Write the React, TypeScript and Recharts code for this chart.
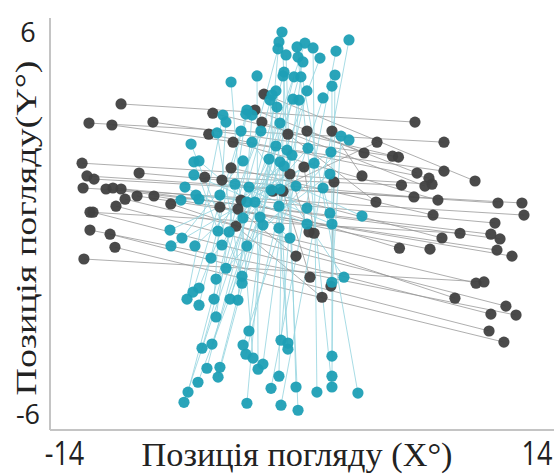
import React from 'react';
import { ScatterChart, Scatter, XAxis, YAxis, Label } from 'recharts';

const xTicks = [-14, 14];
const yTicks = [-6, 6];
const xTitle = 'Позиція погляду (X°)';
const yTitle = 'Позиція погляду(Y°)';

// Dark (horizontal) pairs: start point and end point of each segment
const darkX1 = [-10.65, -12.55, -11.19, -8.76, -5.21, -5.45, -12.96, -9.58, -12.67, -5.69, -12.25, -12.9, -11.13, -11.54, -10.65, -9.7, -8.7, -10.41, -7.7, -10.95, -12.49, -12.31, -12.49, -11.3, -11.01, -12.85, -2.18, -2.71, -2.3, -4.01, -4.13, -4.67, -3.54, -4.79, -0.76, 0.37, 1.85, -1.65, -0.64, 0.19, 1.97, -1.05, -3.72, -3.84];
const darkY1 = [3.71, 3.11, 3.05, 3.14, 3.42, 2.76, 1.85, 1.54, 1.45, 1.41, 1.35, 1.07, 1.07, 1.04, 1.04, 0.82, 0.82, 0.72, 0.57, 0.5, 0.31, 0.31, -0.25, -0.38, -0.79, -1.16, 4.02, 3.52, 3.14, 2.51, 1.7, 1.32, 0.69, 0.47, 2.76, 2.86, 2.86, 0.97, 1.51, 1.73, 1.26, 0.97, 0.41, -0.13];
const darkX2 = [6.77, 8.49, 8.49, 5.44, 5.79, 7.6, 7.78, 6.71, 11.69, 5.97, 13.11, 13.23, 11.51, 11.27, 11.81, 11.63, 12.52, 10.39, 9.14, 12.16, 9.44, 11.27, 12.76, 11.16, 12.04, 10.86, 10.33, 6.89, 7.36, 8.13, 7.84, 8.37, 5.85, 7.66, 4.46, 3.75, 3.63, 4.52, 0.49, 0.79, 1.79, 0.55, -0.28, 1.26];
const darkY2 = [3.14, 2.51, 1.6, 2.07, 2.04, 1.38, 1.19, 0.79, 0.6, 1.16, 0.6, 0.22, -0.03, -0.38, -0.53, -0.88, -1.07, -1.92, -2.39, -2.64, -0.35, -2.89, -2.92, -3.42, -3.77, -1.88, 1.29, 1.54, 1.13, 0.69, 0.22, -0.5, -0.82, -0.85, 0.63, 2.17, 1.45, 2.51, -0.31, -0.35, -2.01, -1.73, -1.07, -2.36];

// Blue (vertical) pairs
const blueX1 = [-1.11, 2.86, -1.29, 0.25, -0.22, 0.73, -1.35, 2.09, -0.87, -0.16, 1.14, 0.13, -0.99, 2.03, -1.05, -2.59, -0.4, 0.01, -4.13, 1.85, 0.37, -1.47, -1.7, 1.32, -0.46, -1.82, -0.1, -1.41, -3.19, -3.25, -2.89, -4.61, -4.43, -1.23, -3.54, -2.36, -4.96, 2.39, 2.86, -2.89, -6.5, -1.47, 0.43, -0.81, 1.79, -0.52, -1.88, -3.42, -6.03, -1.23, -6.33, 0.79, -0.99, 1.73, -6.33, -3.9, -0.28, -3.07, -6.86, 1.32, -1.23, -1.76, -6.21, -4.79, -6.03];
const blueY1 = [5.97, 5.72, 5.66, 5.62, 5.5, 5.47, 5.44, 5.37, 5.25, 5.18, 5.15, 5.03, 4.71, 4.62, 4.59, 4.59, 4.56, 4.56, 4.4, 4.27, 4.12, 4.12, 3.99, 3.9, 3.86, 3.83, 3.83, 3.61, 3.52, 3.39, 3.36, 3.36, 3.14, 3.11, 2.86, 2.86, 2.8, 2.7, 2.58, 2.51, 2.45, 2.39, 2.32, 2.26, 2.2, 2.1, 1.98, 1.92, 1.92, 1.89, 1.89, 1.85, 1.76, 1.51, 1.48, 1.19, 1.13, 1.1, 1.1, 1.07, 1.04, 1.01, 0.85, 0.85, 0.72];
const blueX2 = [-0.16, -1.17, -3.19, -6.92, 3.39, 0.96, -6.68, -1.76, -0.28, 1.85, -6.09, -4.9, -1.29, 1.85, -5.56, -2.53, -4.79, -2.24, -2.83, 1.85, -3.25, -0.76, -5.85, -3.42, -5.26, -0.76, -1.17, -3.07, -5.02, -6.03, -3.72, -6.74, -5.14, -4.19, -6.39, -6.03, -3.48, 1.85, -5.02, 2.56, -3.48, -4.43, -5.32, -3.19, -7.69, -6.27, -4.67, -7.04, -0.64, -4.25, -4.9, -7.75, -1.29, -2.24, 0.37, 1.85, 3.63, -2.41, -3.42, 1.73, -1.29, 0.37, -2.71, -3.19, -7.1];
const blueY2 = [-5.91, -5.75, -5.69, -5.66, -5.37, -5.34, -5.34, -5.22, -5.18, -5.18, -5.03, -4.87, -4.84, -4.84, -4.59, -4.62, -4.56, -4.46, -4.27, -4.21, -4.15, -3.99, -3.96, -3.86, -3.83, -3.8, -3.71, -3.42, -2.98, -2.61, -2.45, -2.42, -2.42, -2.42, -2.2, -2.07, -1.92, -1.89, -1.79, -1.73, -1.7, -1.45, -1.13, -0.75, -0.75, -0.75, -0.72, -0.5, -0.5, -0.31, -0.28, -0.25, -0.19, -0.09, -0.06, -0.06, 0.19, 0.16, 0.13, 0.28, 0.5, 0.44, 0.63, 0.63, 0.69];

type Pt = { x: number; y: number };
const makePairs = (x1: number[], y1: number[], x2: number[], y2: number[]): Pt[][] =>
  x1.map((v, i) => [
    { x: v, y: y1[i] },
    { x: x2[i], y: y2[i] },
  ]);

const darkPairs = makePairs(darkX1, darkY1, darkX2, darkY2);
const bluePairs = makePairs(blueX1, blueY1, blueX2, blueY2);
const darkDots = darkPairs.flat();
const blueDots = bluePairs.flat();

const DARK = '#404040';
const BLUE = '#1d9fb5';
const AXIS = '#c4c4c4';

const NoDot = () => <g />;
const DarkDot = (p: any) => <circle cx={p.cx} cy={p.cy} r={5.6} fill={DARK} fillOpacity={0.95} />;
const BlueDot = (p: any) => <circle cx={p.cx} cy={p.cy} r={5.6} fill={BLUE} fillOpacity={0.95} />;

const XTick = (props: any) => {
  const { x, y, payload } = props;
  return (
    <g transform={`translate(${x},${y + 27})`}>
      <text
        transform="scale(1,1.2)"
        textAnchor="middle"
        fontFamily="'Open Sans', sans-serif"
        fontSize={27}
        fill="#222"
      >
        {payload.value}
      </text>
    </g>
  );
};

const YTick = (props: any) => {
  const { x, y, payload } = props;
  return (
    <text
      x={x - 14}
      y={y}
      textAnchor="middle"
      dominantBaseline="central"
      fontFamily="'Open Sans', sans-serif"
      fontSize={27}
      fill="#222"
    >
      {payload.value}
    </text>
  );
};

const XTitle = (props: any) => {
  const vb = props.viewBox;
  const cx = vb.x + vb.width / 2 - 5;
  const cy = vb.y + 24;
  return (
    <g transform={`translate(${cx},${cy})`}>
      <text
        transform="scale(1,1.12)"
        textAnchor="middle"
        dominantBaseline="central"
        fontFamily="'Liberation Serif', serif"
        fontSize={31}
        fill="#222"
        textLength={311}
        lengthAdjust="spacingAndGlyphs"
      >
        {xTitle}
      </text>
    </g>
  );
};

const YTitle = (props: any) => {
  const vb = props.viewBox;
  const cx = 25;
  const cy = vb.y + vb.height / 2 + 4;
  return (
    <text
      transform={`translate(${cx},${cy}) rotate(-90)`}
      textAnchor="middle"
      dominantBaseline="central"
      fontFamily="'Liberation Serif', serif"
      fontSize={30}
      fill="#222"
      textLength={335}
      lengthAdjust="spacingAndGlyphs"
    >
      {yTitle}
    </text>
  );
};

export default function App() {
  return (
    <div style={{ position: 'absolute', left: 0, top: 0, background: '#fff' }}>
      <ScatterChart width={554} height={475} margin={{ top: 18, right: 0, bottom: 0, left: 0 }}>
        <XAxis
          dataKey="x"
          type="number"
          domain={[-14.86, 15.01]}
          ticks={xTicks}
          allowDataOverflow
          axisLine={{ stroke: AXIS, strokeWidth: 2 }}
          tickLine={false}
          tick={XTick}
          height={45}
        >
          <Label content={XTitle} />
        </XAxis>
        <YAxis
          dataKey="y"
          type="number"
          domain={[-6.53, 6.41]}
          ticks={yTicks}
          allowDataOverflow
          axisLine={{ stroke: AXIS, strokeWidth: 2 }}
          tickLine={false}
          tick={YTick}
          width={50}
        >
          <Label content={YTitle} />
        </YAxis>
        {darkPairs.map((p, i) => (
          <Scatter
            key={'dl' + i}
            data={p}
            line={{ stroke: '#959595', strokeWidth: 0.9, strokeOpacity: 0.85 }}
            shape={NoDot}
            isAnimationActive={false}
          />
        ))}
        {bluePairs.map((p, i) => (
          <Scatter
            key={'bl' + i}
            data={p}
            line={{ stroke: '#93d4df', strokeWidth: 0.9, strokeOpacity: 0.9 }}
            shape={NoDot}
            isAnimationActive={false}
          />
        ))}
        <Scatter data={darkDots} shape={DarkDot} isAnimationActive={false} />
        <Scatter data={blueDots} shape={BlueDot} isAnimationActive={false} />
      </ScatterChart>
    </div>
  );
}
